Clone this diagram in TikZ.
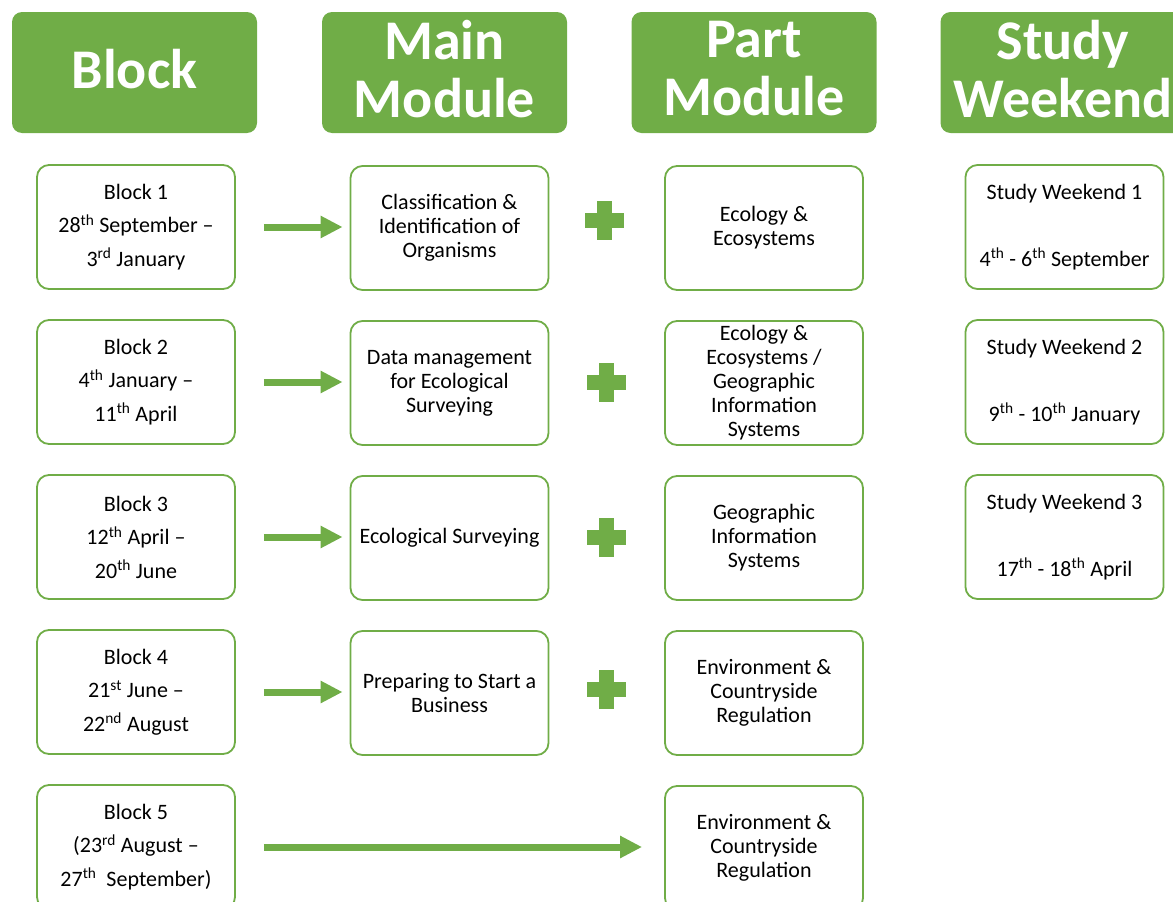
\documentclass[tikz,border=0pt]{standalone}
\usepackage{fontspec}
\setmainfont{Carlito}
\usetikzlibrary{arrows.meta}
\definecolor{leaf}{HTML}{70AD47}
\tikzset{
  header/.style={rectangle, rounded corners=10pt, fill=leaf, inner sep=0pt,
    minimum width=245pt, minimum height=121pt},
  headertext/.style={text=white, inner sep=0pt, align=center, yshift=3.5pt,
    font=\bfseries\fontsize{56}{58}\selectfont},
  item/.style={rectangle, rounded corners=12pt, draw=leaf, line width=1.8pt, fill=white,
    inner sep=0pt, minimum width=198pt, minimum height=124pt, align=center,
    font=\fontsize{22}{24}\selectfont},
  blockitem/.style={item, font=\fontsize{22}{33.5}\selectfont},
  arr/.style={draw=leaf, line width=7pt, -{Triangle[length=22pt,width=21pt]}},
  plussign/.pic={\fill[leaf] (-19.5,-7.5) rectangle (19.5,7.5);
                 \fill[leaf] (-7.5,-19.5) rectangle (7.5,19.5);}
}
\begin{document}
\begin{tikzpicture}[x=1pt,y=-1pt]
\useasboundingbox (0,0) rectangle (1173,902);
\clip (0,0) rectangle (1173,902);
% headers
\node[header] (hb) at (134.5,72.5) {};
\node[header] (hm) at (444.5,72.5) {};
\node[header] (hp) at (754,72.5) {};
\node[header] (hs) at (1063,72.5) {};
\node[headertext] (hbt) at (hb.center) {Block};
\node[headertext] (hmt) at (hm.center) {Main\\Module};
\node[headertext] (hpt) at (hp.center) {Part\\Module};
\node[headertext] (hst) at (hs.center) {Study\\Weekend};
% block column
\node[blockitem] (b1) at (136,227) {Block 1\\28\textsuperscript{th} September --\\3\textsuperscript{rd} January};
\node[blockitem] (b2) at (136,382) {Block 2\\4\textsuperscript{th} January --\\11\textsuperscript{th} April};
\node[blockitem] (b3) at (136,537) {Block 3\\12\textsuperscript{th} April --\\20\textsuperscript{th} June};
\node[blockitem] (b4) at (136,692) {Block 4\\21\textsuperscript{st} June --\\22\textsuperscript{nd} August};
\node[blockitem] (b5) at (136,847) {Block 5\\(23\textsuperscript{rd} August --\\27\textsuperscript{th}\ \ September)};
% main module column
\node[item] (m1) at (449.5,228) {Classification \&\\Identification of\\Organisms};
\node[item] (m2) at (449.5,383) {Data management\\for Ecological\\Surveying};
\node[item] (m3) at (449.5,538) {Ecological Surveying};
\node[item] (m4) at (449.5,693) {Preparing to Start a\\Business};
% part module column
\node[item] (p1) at (764,228) {Ecology \&\\Ecosystems};
\node[item] (p2) at (764,383) {Ecology \&\\Ecosystems /\\Geographic\\Information\\Systems};
\node[item] (p3) at (764,538) {Geographic\\Information\\Systems};
\node[item] (p4) at (764,693) {Environment \&\\Countryside\\Regulation};
\node[item] (p5) at (764,848) {Environment \&\\Countryside\\Regulation};
% study weekend column
\node[blockitem] (s1) at (1064.5,227) {Study Weekend 1\\[33.5pt]4\textsuperscript{th} - 6\textsuperscript{th} September};
\node[blockitem] (s2) at (1064.5,382) {Study Weekend 2\\[33.5pt]9\textsuperscript{th} - 10\textsuperscript{th} January};
\node[blockitem] (s3) at (1064.5,537) {Study Weekend 3\\[33.5pt]17\textsuperscript{th} - 18\textsuperscript{th} April};
% arrows
\draw[arr, shorten <=28pt, shorten >=7pt] (b1.east) -- (m1.west |- b1.east);
\draw[arr, shorten <=28pt, shorten >=7pt] (b2.east) -- (m2.west |- b2.east);
\draw[arr, shorten <=28pt, shorten >=7pt] (b3.east) -- (m3.west |- b3.east);
\draw[arr, shorten <=28pt, shorten >=7pt] (b4.east) -- (m4.west |- b4.east);
\draw[arr, shorten <=28pt, shorten >=22pt] (b5.east) -- (p5.west |- b5.east);
% plus signs
\pic at (604,220) {plussign};
\pic at (606,382) {plussign};
\pic at (606,537) {plussign};
\pic at (606,689) {plussign};
\end{tikzpicture}
\end{document}
